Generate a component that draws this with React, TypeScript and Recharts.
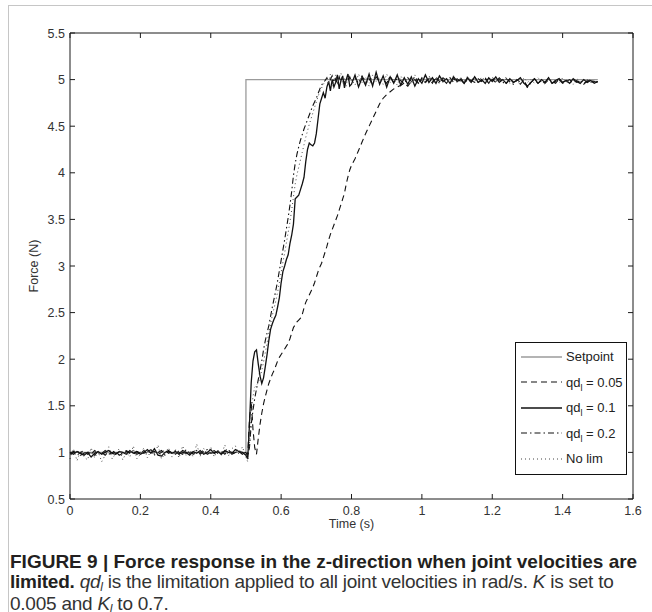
import { LineChart, Line, XAxis, YAxis, Legend } from 'recharts';

// time grid (s): coarse before the step, fine during the rise, coarse after
const T_BASE = [
  0, 0.01, 0.02, 0.03, 0.04, 0.05, 0.06, 0.07, 0.08, 0.09,
  0.1, 0.11, 0.12, 0.13, 0.14, 0.15, 0.16, 0.17, 0.18, 0.19,
  0.2, 0.21, 0.22, 0.23, 0.24, 0.25, 0.26, 0.27, 0.28, 0.29,
  0.3, 0.31, 0.32, 0.33, 0.34, 0.35, 0.36, 0.37, 0.38, 0.39,
  0.4, 0.41, 0.42, 0.43, 0.44, 0.45, 0.46, 0.47, 0.48, 0.49,
];
const T_RISE = [
  0.5, 0.505, 0.51, 0.515, 0.52, 0.525, 0.53, 0.535, 0.54, 0.545,
  0.55, 0.555, 0.56, 0.565, 0.57, 0.575, 0.58, 0.585, 0.59, 0.595,
  0.6, 0.605, 0.61, 0.615, 0.62, 0.625, 0.63, 0.635, 0.64, 0.645,
  0.65, 0.655, 0.66, 0.665, 0.67, 0.675, 0.68, 0.685, 0.69, 0.695,
  0.7, 0.705, 0.71, 0.715, 0.72, 0.725, 0.73, 0.735, 0.74, 0.745,
  0.75, 0.755, 0.76, 0.765, 0.77, 0.775, 0.78, 0.785, 0.79, 0.795,
];
const T_SETTLE = [
  0.8, 0.81, 0.82, 0.83, 0.84, 0.85, 0.86, 0.87, 0.88, 0.89,
  0.9, 0.91, 0.92, 0.93, 0.94, 0.95, 0.96, 0.97, 0.98, 0.99,
  1.0, 1.01, 1.02, 1.03, 1.04, 1.05, 1.06, 1.07, 1.08, 1.09,
  1.1, 1.11, 1.12, 1.13, 1.14, 1.15, 1.16, 1.17, 1.18, 1.19,
  1.2, 1.21, 1.22, 1.23, 1.24, 1.25, 1.26, 1.27, 1.28, 1.29,
  1.3, 1.31, 1.32, 1.33, 1.34, 1.35, 1.36, 1.37, 1.38, 1.39,
  1.4, 1.41, 1.42, 1.43, 1.44, 1.45, 1.46, 1.47, 1.48, 1.49,
  1.5,
];

// setpoint (N)
const SETPOINT_T = [0, 0.5, 1.5];
const SETPOINT_F = [1, 5, 5];

// qd_l = 0.05 (dashed)
const QD005_BASE = [
  0.99, 1.01, 0.97, 1.0, 1.02, 0.98, 1.0, 0.97, 1.01, 0.99,
  1.02, 0.98, 1.0, 1.01, 0.97, 0.99, 1.02, 1.0, 0.98, 1.01,
  0.99, 1.02, 0.98, 1.0, 1.01, 0.98, 1.0, 1.03, 0.99, 1.01,
  0.98, 1.02, 1.0, 0.99, 1.02, 0.98, 1.01, 0.99, 1.03, 0.98,
  1.0, 1.02, 0.99, 1.01, 0.98, 1.02, 1.0, 0.99, 1.01, 0.98,
];
const QD005_RISE = [
  1.0, 0.97, 1.35, 1.55, 1.25, 1.05, 0.98, 1.15, 1.3, 1.42,
  1.52, 1.6, 1.67, 1.74, 1.79, 1.84, 1.88, 1.93, 1.98, 2.02,
  2.05, 2.08, 2.11, 2.14, 2.17, 2.22, 2.28, 2.34, 2.37, 2.4,
  2.42, 2.44, 2.48, 2.55, 2.61, 2.65, 2.69, 2.73, 2.77, 2.82,
  2.88, 2.94, 2.99, 3.03, 3.09, 3.15, 3.21, 3.28, 3.34, 3.39,
  3.44, 3.49, 3.54, 3.6, 3.66, 3.72, 3.78, 3.88, 3.96, 4.03,
];
const QD005_SETTLE = [
  4.08, 4.15, 4.24, 4.33, 4.42, 4.5, 4.58, 4.66, 4.74, 4.8,
  4.84, 4.87, 4.9, 4.92, 4.94, 4.96, 4.93, 4.98, 5.0, 4.95,
  5.02, 4.97, 5.01, 4.96, 5.03, 4.98, 5.0, 4.96, 5.02, 4.97,
  5.01, 4.98, 4.96, 5.02, 4.99, 4.97, 5.01, 4.98, 5.02, 4.96,
  5.0, 4.97, 5.02, 4.98, 4.96, 5.01, 4.97, 4.99, 4.95, 5.0,
  4.91, 4.97, 5.0, 4.96, 4.99, 4.97, 5.01, 4.96, 4.98, 5.0,
  4.96, 4.98, 5.0, 4.96, 4.99, 4.97, 4.95, 4.99, 4.97, 4.98,
  4.97,
];

// qd_l = 0.1 (solid)
const QD01_BASE = [
  1.0, 0.98, 1.01, 0.99, 0.97, 1.0, 0.95, 0.99, 1.01, 0.98,
  1.0, 1.02, 0.99, 0.98, 1.01, 1.0, 0.98, 1.02, 0.99, 1.01,
  0.98, 1.0, 1.03, 0.99, 1.04, 0.97, 0.96, 1.0, 1.02, 0.99,
  1.01, 0.98, 1.02, 1.0, 0.97, 1.01, 0.99, 1.02, 0.98, 1.0,
  1.03, 0.99, 1.01, 0.98, 1.02, 1.0, 0.99, 1.03, 1.01, 1.0,
];
const QD01_RISE = [
  0.97, 0.93, 1.3, 1.75, 1.98, 2.08, 2.1, 1.95, 1.82, 1.74,
  1.8, 1.92, 2.05, 2.2, 2.32, 2.38, 2.43, 2.47, 2.56, 2.66,
  2.82, 2.94, 3.0, 3.07, 3.12, 3.24, 3.33, 3.45, 3.72, 3.74,
  3.76, 3.82, 3.88, 3.95, 4.12, 4.25, 4.32, 4.3, 4.29, 4.32,
  4.42, 4.58, 4.74, 4.8, 4.86, 4.8, 4.92, 4.98, 4.88, 5.0,
  4.92, 4.97, 5.05, 4.9, 4.99, 5.04, 4.91, 5.0, 5.06, 4.93,
];
const QD01_SETTLE = [
  4.95, 5.05, 4.92, 5.02, 4.94, 5.06, 4.93, 5.08, 4.95, 5.04,
  4.92, 5.03, 4.96, 5.05, 4.94, 5.02, 4.95, 5.03, 4.93, 5.01,
  4.96, 5.05, 4.97, 5.02, 4.96, 5.04, 4.98, 5.01, 4.96, 5.03,
  4.98, 5.0, 4.96, 5.02, 4.97, 5.03, 4.97, 5.0, 4.96, 5.02,
  4.98, 5.03, 4.97, 5.0, 4.96, 5.01, 4.97, 4.99, 5.02, 4.96,
  4.93, 4.97, 5.01, 4.96, 5.0, 4.97, 5.02, 4.96, 4.99, 5.01,
  4.97, 4.99, 4.96, 5.01, 4.98, 4.96, 5.0, 4.97, 4.99, 4.96,
  4.98,
];

// qd_l = 0.2 (dash-dot)
const QD02_BASE = [
  0.98, 1.0, 1.02, 0.97, 0.99, 1.01, 0.98, 1.02, 0.99, 1.0,
  0.97, 1.01, 1.02, 0.99, 1.0, 0.98, 1.01, 0.99, 1.02, 0.98,
  1.0, 0.99, 1.01, 1.03, 0.98, 1.0, 1.02, 0.97, 1.01, 0.99,
  1.02, 1.0, 0.98, 1.03, 0.99, 1.0, 1.02, 0.98, 1.01, 1.03,
  0.99, 1.0, 1.02, 0.99, 1.01, 1.03, 0.98, 1.0, 1.02, 0.99,
];
const QD02_RISE = [
  1.0, 0.96, 1.05, 1.3, 1.45, 1.58, 1.68, 1.78, 1.88, 1.98,
  2.1, 2.2, 2.28, 2.36, 2.46, 2.56, 2.65, 2.74, 2.84, 2.95,
  3.06, 3.17, 3.28, 3.4, 3.52, 3.65, 3.8, 3.97, 4.1, 4.2,
  4.28, 4.35, 4.41, 4.47, 4.52, 4.57, 4.62, 4.67, 4.72, 4.76,
  4.8, 4.85, 4.9, 4.94, 4.97, 4.99, 5.02, 4.96, 5.0, 5.04,
  4.97, 5.01, 4.95, 5.03, 4.98, 5.02, 4.96, 5.01, 4.98, 5.03,
];
const QD02_SETTLE = [
  4.98, 5.02, 4.96, 5.04, 4.97, 5.01, 4.95, 5.03, 4.98, 5.0,
  4.96, 5.04, 4.97, 5.01, 4.99, 4.95, 5.02, 4.98, 5.03, 4.96,
  5.0, 4.97, 5.03, 4.98, 5.01, 4.96, 5.02, 4.99, 4.97, 5.01,
  4.98, 5.02, 4.96, 5.0, 4.98, 5.03, 4.97, 4.99, 5.01, 4.96,
  5.02, 4.98, 5.0, 4.96, 5.01, 4.98, 4.95, 5.0, 4.97, 4.99,
  4.92, 4.98, 5.01, 4.97, 4.99, 4.96, 5.0, 4.98, 4.96, 5.01,
  4.97, 4.99, 4.96, 5.0, 4.97, 4.99, 4.96, 4.98, 5.0, 4.97,
  4.98,
];

// no limitation (dotted)
const NOLIM_BASE = [
  0.93, 1.04, 0.91, 1.02, 0.95, 0.92, 1.05, 0.94, 1.01, 0.9,
  0.97, 1.06, 0.93, 0.99, 1.04, 0.92, 1.0, 0.95, 1.07, 0.93,
  0.98, 1.05, 0.94, 1.02, 0.96, 1.08, 0.93, 0.99, 1.05, 0.95,
  1.03, 0.94, 1.07, 0.97, 1.02, 0.95, 1.09, 0.96, 1.04, 0.98,
  1.06, 0.95, 1.03, 0.97, 1.08, 0.96, 1.04, 1.07, 0.98, 1.06,
];
const NOLIM_RISE = [
  0.95, 0.9, 1.1, 1.4, 1.6, 1.7, 1.72, 1.75, 1.8, 1.88,
  1.97, 2.07, 2.17, 2.28, 2.38, 2.47, 2.55, 2.63, 2.72, 2.82,
  2.93, 3.04, 3.14, 3.25, 3.36, 3.47, 3.6, 3.74, 3.88, 3.98,
  4.06, 4.14, 4.22, 4.3, 4.38, 4.45, 4.52, 4.58, 4.64, 4.7,
  4.76, 4.82, 4.87, 4.91, 4.95, 4.98, 5.02, 4.95, 5.06, 4.93,
  5.0, 5.05, 4.94, 5.02, 5.07, 4.95, 5.01, 4.93, 5.04, 4.97,
];
const NOLIM_SETTLE = [
  5.0, 4.94, 5.06, 4.97, 5.03, 4.93, 5.05, 4.98, 5.02, 4.95,
  5.06, 4.97, 5.01, 4.94, 5.04, 4.98, 5.02, 4.95, 5.05, 4.97,
  5.01, 4.96, 5.04, 4.99, 4.96, 5.03, 4.97, 5.01, 4.95, 5.04,
  4.97, 5.02, 4.98, 5.04, 4.96, 5.0, 4.97, 5.03, 4.99, 4.96,
  5.03, 4.97, 5.01, 4.98, 5.03, 4.96, 5.0, 4.98, 4.95, 5.02,
  4.97, 5.0, 4.96, 5.02, 4.98, 4.95, 5.01, 4.97, 5.0, 4.96,
  5.02, 4.97, 4.99, 4.95, 5.01, 4.98, 4.96, 5.0, 4.97, 4.99,
  4.97,
];

const X_TICKS = [0, 0.2, 0.4, 0.6, 0.8, 1, 1.2, 1.4, 1.6];
const Y_TICKS = [0.5, 1, 1.5, 2, 2.5, 3, 3.5, 4, 4.5, 5, 5.5];
const LIMITS = ['0.05', '0.1', '0.2'];

const TIME = [...T_BASE, ...T_RISE, ...T_SETTLE];
const QD005 = [...QD005_BASE, ...QD005_RISE, ...QD005_SETTLE];
const QD01 = [...QD01_BASE, ...QD01_RISE, ...QD01_SETTLE];
const QD02 = [...QD02_BASE, ...QD02_RISE, ...QD02_SETTLE];
const NOLIM = [...NOLIM_BASE, ...NOLIM_RISE, ...NOLIM_SETTLE];

const data = TIME.map((t, i) => ({
  t,
  qd005: QD005[i],
  qd01: QD01[i],
  qd02: QD02[i],
  nolim: NOLIM[i],
}));
const setpointData = SETPOINT_T.map((t, i) => ({ t, f: SETPOINT_F[i] }));

const FONT = '"Liberation Sans", Arial, Helvetica, sans-serif';
const AXIS = '#1a1a1a';
const TICK_LEN = 5;
const tickText = { fontFamily: FONT, fontSize: 12.5, fill: '#333' };

const STYLES: Record<string, { color: string; dash?: string; width: number }> = {
  setpoint: { color: '#9b9b9b', width: 1.3 },
  qd005: { color: '#111', dash: '6 4', width: 1.1 },
  qd01: { color: '#111', width: 1.3 },
  qd02: { color: '#111', dash: '6 3 1.5 3', width: 1.1 },
  nolim: { color: '#444', dash: '1 3', width: 1 },
};
const ORDER = ['setpoint', 'qd005', 'qd01', 'qd02', 'nolim'];

function BottomTick({ x, y, payload }: any) {
  return (
    <g>
      <line x1={x} x2={x} y1={y} y2={y - TICK_LEN} stroke={AXIS} />
      <text x={x} y={y + 16} textAnchor="middle" {...tickText}>
        {payload.value}
      </text>
    </g>
  );
}

function LeftTick({ x, y, payload }: any) {
  return (
    <g>
      <line x1={x} x2={x + TICK_LEN} y1={y} y2={y} stroke={AXIS} />
      <text x={x - 5} y={y + 4.5} textAnchor="end" {...tickText}>
        {payload.value}
      </text>
    </g>
  );
}

function TopTick({ x, y }: any) {
  return <line x1={x} x2={x} y1={y} y2={y + TICK_LEN} stroke={AXIS} />;
}

function RightTick({ x, y }: any) {
  return <line x1={x} x2={x - TICK_LEN} y1={y} y2={y} stroke={AXIS} />;
}

function YTitle(props: any) {
  const vb = props.viewBox;
  const cx = vb.x + 4;
  const cy = vb.y + vb.height / 2;
  return (
    <text
      x={cx}
      y={cy}
      transform={`rotate(-90 ${cx} ${cy})`}
      textAnchor="middle"
      dominantBaseline="central"
      {...tickText}
    >
      Force (N)
    </text>
  );
}

function XTitle(props: any) {
  const vb = props.viewBox;
  return (
    <text x={vb.x + vb.width / 2} y={vb.y + 29} textAnchor="middle" {...tickText}>
      Time (s)
    </text>
  );
}

function SeriesName({ id }: { id: string }) {
  if (id === 'setpoint') return <span>Setpoint</span>;
  if (id === 'nolim') return <span>No lim</span>;
  const lim = LIMITS[['qd005', 'qd01', 'qd02'].indexOf(id)];
  return (
    <span>
      qd
      <span style={{ fontSize: 9, position: 'relative', top: 4 }}>l</span> = {lim}
    </span>
  );
}

const idOf = (entry: any) => (entry.dataKey === 'f' ? 'setpoint' : entry.dataKey);

function LegendBox({ payload }: any) {
  const items = [...(payload ?? [])].sort((a: any, b: any) => ORDER.indexOf(idOf(a)) - ORDER.indexOf(idOf(b)));
  return (
    <div
      style={{
        border: '1.5px solid #111',
        background: '#fff',
        padding: '1px 5px 2px 5px',
        width: 100,
        fontFamily: FONT,
        fontSize: 13,
        color: '#222',
      }}
    >
      {items.map((entry: any) => {
        const id = idOf(entry);
        const s = STYLES[id];
        return (
          <div key={id} style={{ display: 'flex', alignItems: 'center', height: 25.5 }}>
            <svg width={41} height={10} style={{ flex: 'none' }}>
              <line x1={0} x2={41} y1={5} y2={5} stroke={s.color} strokeWidth={s.width} strokeDasharray={s.dash} />
            </svg>
            <span style={{ marginLeft: 4, whiteSpace: 'nowrap' }}>
              <SeriesName id={id} />
            </span>
          </div>
        );
      })}
    </div>
  );
}

const subStyle = { fontSize: 12, position: 'relative' as const, top: 3 };

export default function App() {
  return (
    <div style={{ position: 'absolute', left: 0, top: 0, width: 652, height: 612, background: '#fff', overflow: 'hidden' }}>
      <div
        style={{
          position: 'absolute',
          left: 8,
          top: 5,
          right: -2,
          bottom: -2,
          borderTop: '1px solid #c6c6c6',
          borderLeft: '1px solid #c6c6c6',
        }}
      />
      <div style={{ position: 'absolute', left: 0, top: 0 }}>
        <LineChart width={652} height={545} data={data} margin={{ top: 32, right: 18, left: 30, bottom: 16 }}>
          <XAxis
            dataKey="t"
            type="number"
            domain={[0, 1.6]}
            ticks={X_TICKS}
            interval={0}
            height={30}
            tickSize={0}
            tickMargin={0}
            tickLine={false}
            axisLine={{ stroke: AXIS }}
            tick={<BottomTick />}
            label={XTitle}
          />
          <XAxis
            xAxisId="top"
            dataKey="t"
            orientation="top"
            type="number"
            domain={[0, 1.6]}
            ticks={X_TICKS}
            interval={0}
            height={1}
            tickSize={0}
            tickMargin={0}
            tickLine={false}
            axisLine={{ stroke: AXIS }}
            tick={<TopTick />}
          />
          <YAxis
            type="number"
            domain={[0.5, 5.5]}
            ticks={Y_TICKS}
            interval={0}
            width={40}
            tickSize={0}
            tickMargin={0}
            tickLine={false}
            axisLine={{ stroke: AXIS }}
            tick={<LeftTick />}
            label={YTitle}
          />
          <YAxis
            yAxisId="right"
            orientation="right"
            type="number"
            domain={[0.5, 5.5]}
            ticks={Y_TICKS}
            interval={0}
            width={1}
            tickSize={0}
            tickMargin={0}
            tickLine={false}
            axisLine={{ stroke: AXIS }}
            tick={<RightTick />}
          />
          {/* setpoint is drawn on the (identical) top/right axes so those render as the frame */}
          <Line
            xAxisId="top"
            yAxisId="right"
            data={setpointData}
            dataKey="f"
            name="Setpoint"
            type="stepAfter"
            stroke={STYLES.setpoint.color}
            strokeWidth={STYLES.setpoint.width}
            dot={false}
            activeDot={false}
            isAnimationActive={false}
          />
          {['qd005', 'qd01', 'qd02', 'nolim'].map((k) => (
            <Line
              key={k}
              dataKey={k}
              name={k}
              type="linear"
              stroke={STYLES[k].color}
              strokeWidth={STYLES[k].width}
              strokeDasharray={STYLES[k].dash}
              dot={false}
              activeDot={false}
              isAnimationActive={false}
            />
          ))}
          <Legend
            layout="vertical"
            align="center"
            verticalAlign="middle"
            content={<LegendBox />}
            wrapperStyle={{ position: 'absolute', left: 515, top: 342, width: 'auto', height: 'auto' }}
          />
        </LineChart>
      </div>
      <div
        style={{
          position: 'absolute',
          left: 10,
          top: 552,
          fontFamily: FONT,
          color: '#231f20',
          fontSize: 19,
          lineHeight: '19.5px',
          whiteSpace: 'nowrap',
        }}
      >
        <div style={{ fontWeight: 700 }}>FIGURE 9 | Force response in the z-direction when joint velocities are</div>
        <div style={{ color: '#333', letterSpacing: -0.24 }}>
          <b style={{ color: '#231f20' }}>limited.</b>{' '}
          <i>
            qd<span style={subStyle}>l</span>
          </i>{' '}
          is the limitation applied to all joint velocities in rad/s. <i>K</i> is set to
        </div>
        <div style={{ color: '#333', letterSpacing: -0.24 }}>
          0.005 and{' '}
          <i>
            K<span style={subStyle}>l</span>
          </i>{' '}
          to 0.7.
        </div>
      </div>
    </div>
  );
}
